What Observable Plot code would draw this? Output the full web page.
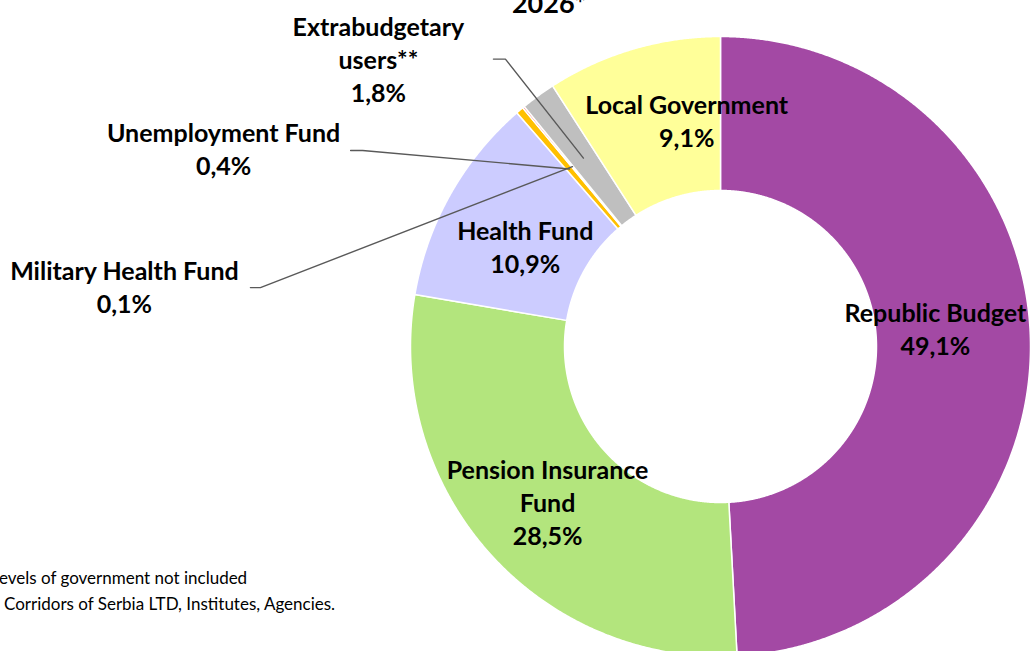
<!DOCTYPE html>
<html><head><meta charset="utf-8">
<script src="https://cdn.jsdelivr.net/npm/d3@7"></script>
<script src="https://cdn.jsdelivr.net/npm/@observablehq/plot@0.6"></script>
<style>
html,body{margin:0;padding:0;background:#fff;overflow:hidden;width:1030px;height:651px;}
#wrap{position:relative;width:1030px;height:651px;overflow:hidden;}
#wrap svg{position:absolute;left:0;top:0;}
.title{position:absolute;top:-10px;left:449px;width:200px;text-align:center;font-family:Lato;font-weight:bold;font-size:27px;line-height:26px;color:#000;}
.note{position:absolute;font-family:Lato;font-size:17px;line-height:20px;color:#000;white-space:nowrap;}
</style></head><body><div id="wrap"></div>
<script>
// ---- data ----
const categories = ["Republic Budget","Pension Insurance Fund","Health Fund","Unemployment Fund","Military Health Fund","Extrabudgetary users**","Local Government"];
const shares = [49.1, 28.5, 10.9, 0.4, 0.1, 1.8, 9.1];
const labelNames = ["Republic Budget","Pension Insurance\nFund","Health Fund","Unemployment Fund","Military Health Fund","Extrabudgetary\nusers**","Local Government"];
const shareLabels = ["49,1%","28,5%","10,9%","0,4%","0,1%","1,8%","9,1%"];
const colors = ["#A349A4","#B3E57D","#CCCCFF","#FFC000","#FF4D4D","#BFBFBF","#FFFF99"];
const titleText = "2026*";
const notes = ["evels of government not included", "Corridors of Serbia LTD, Institutes, Agencies."];

// ---- layout (pixels) ----
const W = 1030, H = 651, CX = 720, CY = 346, R_OUT = 310, R_IN = 156, R_MID = (R_OUT + R_IN) / 2;
// label offset from slice mid-point (screen pixels, +dy = down)
const labelOffsets = [[-18,-12],[1,0],[8,13],[-346,-21],[-448,119],[-205,-100],[32,-3]];
// leader lines: [start dx, elbow dx, dy] relative to label centre; null = none
const leaderDefs = [null,null,null,[127,139,2.5],[126,136,2],[115,127,1],null];

const total = d3.sum(shares);
let cum = 0;
const slices = categories.map((name, i) => {
  const a0 = cum / total * 2 * Math.PI;
  cum += shares[i];
  const a1 = cum / total * 2 * Math.PI;
  return {name, a0, a1, mid: (a0 + a1) / 2, i};
});

const pts = [];
for (const s of slices) {
  const n = Math.max(2, Math.ceil((s.a1 - s.a0) / (0.25 * Math.PI / 180)));
  for (let k = 0; k <= n; k++) {
    const t = s.a0 + (s.a1 - s.a0) * k / n;
    pts.push({name: s.name, x: R_OUT * Math.sin(t), y: R_OUT * Math.cos(t)});
  }
  for (let k = n; k >= 0; k--) {
    const t = s.a0 + (s.a1 - s.a0) * k / n;
    pts.push({name: s.name, x: R_IN * Math.sin(t), y: R_IN * Math.cos(t)});
  }
}

const labels = slices.map(s => {
  const ax = R_MID * Math.sin(s.mid), ay = R_MID * Math.cos(s.mid);
  const [dx, dy] = labelOffsets[s.i];
  return {name: s.name, ax, ay, x: ax + dx, y: ay - dy, text: labelNames[s.i] + "\n" + shareLabels[s.i]};
});

const leaders = [];
labels.forEach((l, i) => {
  const d = leaderDefs[i];
  if (!d) return;
  leaders.push({name: l.name, x: l.x + d[0], y: l.y - d[2]});
  leaders.push({name: l.name, x: l.x + d[1], y: l.y - d[2]});
  leaders.push({name: l.name, x: l.ax, y: l.ay});
});

const chart = Plot.plot({
  width: W, height: H, margin: 0,
  x: {type: "linear", domain: [-CX, W - CX], range: [0, W], axis: null},
  y: {type: "linear", domain: [CY - H, CY], range: [H, 0], axis: null},
  color: {domain: categories, range: colors},
  style: {fontFamily: "Lato", background: "transparent", overflow: "visible"},
  marks: [
    Plot.line(pts, {x: "x", y: "y", z: "name", fill: "name", stroke: "white", strokeWidth: 1.5, curve: "linear-closed"}),
    Plot.line(leaders, {x: "x", y: "y", z: "name", stroke: "#595959", strokeWidth: 1.4}),
    Plot.text(labels, {x: "x", y: "y", text: "text", fontSize: 25, fontWeight: "bold", lineHeight: 1.32, fill: "black"})
  ]
});

const wrap = document.getElementById("wrap");
wrap.appendChild(chart);
const t = document.createElement("div");
t.className = "title"; t.textContent = titleText; wrap.appendChild(t);
const n1 = document.createElement("div");
n1.className = "note"; n1.style.left = "-1px"; n1.style.top = "568px"; n1.textContent = notes[0]; wrap.appendChild(n1);
const n2 = document.createElement("div");
n2.className = "note"; n2.style.left = "4px"; n2.style.top = "594px"; n2.textContent = notes[1]; wrap.appendChild(n2);
</script>
</body></html>
